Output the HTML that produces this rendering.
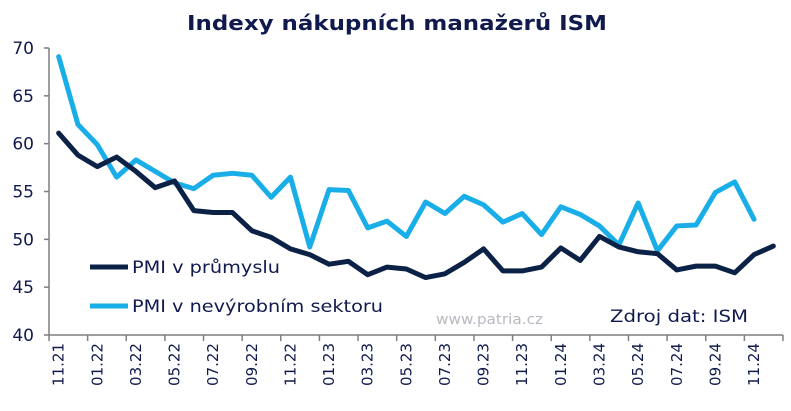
<!DOCTYPE html>
<html><head><meta charset="utf-8"><style>
body{margin:0;background:#fff}
svg{display:block;font-family:"DejaVu Sans",Verdana,sans-serif}
</style></head><body>
<svg width="791" height="411" id="c">
<text x="187" y="30" font-size="20" font-weight="bold" fill="#101a4d" textLength="420" lengthAdjust="spacingAndGlyphs">Indexy nákupních manažerů ISM</text>
<g id="ax"></g>
<g id="ln"></g>
<g>
<line x1="90" y1="267" x2="128" y2="267" stroke="#0b2145" stroke-width="5"/>
<text x="132" y="273" font-size="17" fill="#101a4d" textLength="148" lengthAdjust="spacingAndGlyphs">PMI v průmyslu</text>
<line x1="90" y1="306" x2="128" y2="306" stroke="#19aee8" stroke-width="5"/>
<text x="132" y="312" font-size="17" fill="#101a4d" textLength="251" lengthAdjust="spacingAndGlyphs">PMI v nevýrobním sektoru</text>
</g>
<text x="436" y="324" font-size="14" fill="#b8b8c0" textLength="107" lengthAdjust="spacingAndGlyphs">www.patria.cz</text>
<text x="610" y="322" font-size="17" fill="#101a4d" textLength="138" lengthAdjust="spacingAndGlyphs">Zdroj dat: ISM</text>
</svg>
<script>
const categories=["11.21","12.21","01.22","02.22","03.22","04.22","05.22","06.22","07.22","08.22","09.22","10.22","11.22","12.22","01.23","02.23","03.23","04.23","05.23","06.23","07.23","08.23","09.23","10.23","11.23","12.23","01.24","02.24","03.24","04.24","05.24","06.24","07.24","08.24","09.24","10.24","11.24","12.24"];
const manufacturing=[61.1,58.8,57.6,58.6,57.1,55.4,56.1,53.0,52.8,52.8,50.9,50.2,49.0,48.4,47.4,47.7,46.3,47.1,46.9,46.0,46.4,47.6,49.0,46.7,46.7,47.1,49.1,47.8,50.3,49.2,48.7,48.5,46.8,47.2,47.2,46.5,48.4,49.3];
const services=[69.1,62.0,59.9,56.5,58.3,57.1,55.9,55.3,56.7,56.9,56.7,54.4,56.5,49.2,55.2,55.1,51.2,51.9,50.3,53.9,52.7,54.5,53.6,51.8,52.7,50.5,53.4,52.6,51.4,49.4,53.8,48.8,51.4,51.5,54.9,56.0,52.1];
const yTicks=[40,45,50,55,60,65,70];
const NS="http://www.w3.org/2000/svg";
const x0=49,x1=783,yTop=48,yBot=335,yMin=40,yMax=70;
const bw=(x1-x0)/categories.length;
function xs(i){return x0+bw*(i+0.5);}
function ys(v){return yBot-(v-yMin)/(yMax-yMin)*(yBot-yTop);}
function mk(t,a,p){const e=document.createElementNS(NS,t);for(const k in a)e.setAttribute(k,a[k]);p.appendChild(e);return e;}
const ax=document.getElementById('ax'),ln=document.getElementById('ln');
const ya=mk('line',{x1:x0,y1:yTop,x2:x0,y2:yBot,stroke:'#7f7f7f','stroke-width':1.5},ax);


const xa=mk('line',{x1:x0,y1:yBot,x2:x1,y2:yBot,stroke:'#7f7f7f','stroke-width':1.5},ax);


yTicks.forEach(v=>{
 mk('line',{x1:x0-5,y1:ys(v),x2:x0,y2:ys(v),stroke:'#7f7f7f','stroke-width':1.5},ax);
 const t=mk('text',{x:34,y:ys(v)+6,'text-anchor':'end','font-size':17,fill:'#101a4d'},ax);
 
 
 t.textContent=v;
});
for(let i=0;i<=categories.length;i+=2){
 mk('line',{x1:x0+bw*i,y1:yBot,x2:x0+bw*i,y2:yBot+6,stroke:'#7f7f7f','stroke-width':1.5},ax);
}
categories.forEach((c,i)=>{
 if(i%2)return;
 const x=xs(i)+5,y=yBot+8;
 const t=mk('text',{x:x,y:y,'text-anchor':'end','font-size':15,fill:'#101a4d',transform:`rotate(-90 ${x} ${y})`},ax);
 
 
 t.textContent=c;
});
function line(d,col,name){
 const p=mk('polyline',{points:d.map((v,i)=>xs(i)+','+ys(v)).join(' '),fill:'none',stroke:col,'stroke-width':5,'stroke-linejoin':'round','stroke-linecap':'round'},ln);
 
 
}
line(services,'#19aee8','services-pmi-line');
line(manufacturing,'#0b2145','manufacturing-pmi-line');
</script>
</body></html>
